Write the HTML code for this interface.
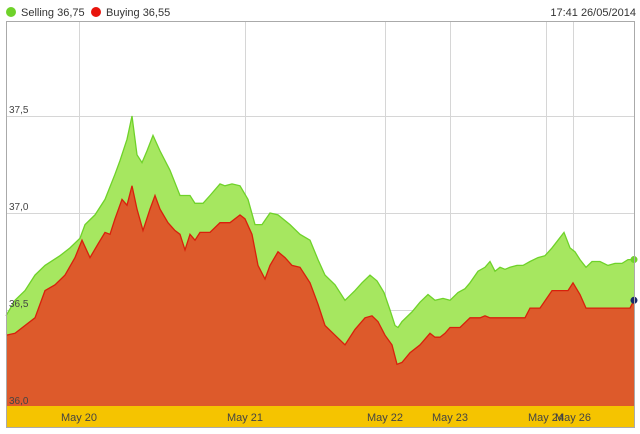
<!DOCTYPE html>
<html><head><meta charset="utf-8"><style>
body{margin:0;background:#fff;font-family:"Liberation Sans",sans-serif;}
svg{display:block}
</style></head><body>
<svg id="c" width="640" height="434">
<rect x="0" y="0" width="640" height="434" fill="#fff"/>
<g>
<circle cx="11" cy="12" r="5" fill="#6fd22a"/>
<text x="21" y="16" font-size="11" fill="#333">Selling 36,75</text>
<circle cx="96" cy="12" r="5" fill="#e8140c"/>
<text x="106" y="16" font-size="11" fill="#333">Buying 36,55</text>
<text x="636" y="16" font-size="11" fill="#333" text-anchor="end">17:41 26/05/2014</text>
</g>
<g id="grid"></g>
<g id="areas"></g>
<rect x="6" y="406" width="629" height="21" fill="#f5c400"/>
<g id="xl"></g>
<g id="yl"></g>
<rect x="6.5" y="21.5" width="628" height="406" fill="none" stroke="#aaa"/>
</svg>
<script>
const sellTimes=[0,9,19,29,39,54,64,74,79,89,99,109,114,121,126,131,136,141,147,154,164,174,184,189,197,204,214,219,226,234,242,249,256,264,272,284,294,304,312,319,329,339,349,356,364,371,378,384,389,392,396,406,414,422,429,437,444,452,459,464,472,479,484,489,494,499,504,511,517,524,532,539,546,552,558,564,569,574,580,586,594,602,609,616,622,628];
const sellValues=[36.47,36.55,36.60,36.68,36.73,36.78,36.82,36.87,36.94,36.99,37.07,37.20,37.27,37.38,37.50,37.30,37.26,37.32,37.40,37.32,37.22,37.09,37.09,37.05,37.05,37.09,37.15,37.14,37.15,37.14,37.07,36.94,36.94,37.00,36.99,36.94,36.89,36.86,36.76,36.68,36.63,36.55,36.60,36.64,36.68,36.65,36.59,36.50,36.42,36.41,36.44,36.49,36.54,36.58,36.55,36.56,36.55,36.59,36.61,36.64,36.70,36.72,36.75,36.70,36.72,36.71,36.72,36.73,36.73,36.75,36.77,36.78,36.82,36.86,36.90,36.82,36.80,36.76,36.72,36.75,36.75,36.73,36.74,36.74,36.76,36.76];
const buyTimes=[0,9,19,29,39,49,59,69,76,84,92,99,104,109,116,121,126,131,137,144,149,154,162,169,174,179,184,189,194,204,214,224,234,239,246,252,259,264,272,279,286,294,304,312,319,329,339,349,359,366,372,379,386,391,396,404,414,424,429,434,439,444,454,464,474,479,484,494,519,524,534,546,562,567,574,580,594,624,628];
const buyValues=[36.37,36.38,36.42,36.46,36.60,36.63,36.68,36.77,36.86,36.77,36.84,36.90,36.89,36.97,37.07,37.04,37.14,37.02,36.91,37.02,37.09,37.02,36.95,36.91,36.89,36.81,36.89,36.86,36.90,36.90,36.95,36.95,36.99,36.97,36.89,36.73,36.66,36.73,36.80,36.77,36.73,36.72,36.64,36.53,36.42,36.37,36.32,36.40,36.46,36.47,36.44,36.37,36.32,36.22,36.23,36.28,36.32,36.38,36.36,36.36,36.38,36.41,36.41,36.46,36.46,36.47,36.46,36.46,36.46,36.51,36.51,36.60,36.60,36.64,36.58,36.51,36.51,36.51,36.55];
const yTicks=[36.0,36.5,37.0,37.5];
const yTickLabels=["36,0","36,5","37,0","37,5"];
const dayTimes=[73,239,379,444,540,567];
const dayLabels=["May 20","May 21","May 22","May 23","May 24","May 26"];
const X=t=>6+t, Y=v=>407-(v-36)*194;
const NS="http://www.w3.org/2000/svg";
function mk(tag,attrs,parent){const e=document.createElementNS(NS,tag);for(const k in attrs)e.setAttribute(k,attrs[k]);document.getElementById(parent).appendChild(e);return e;}
yTicks.forEach((v,i)=>{
 const l=mk('line',{x1:6,x2:634,y1:Y(v)+.5,y2:Y(v)+.5,stroke:'#d6d6d6'},'grid');
 
 
 const t=mk('text',{x:9,y:Y(v)-3,'font-size':10,fill:'#444'},'yl');t.textContent=yTickLabels[i];
 
 
});
dayTimes.forEach((d,i)=>{
 const l=mk('line',{x1:X(d)+.5,x2:X(d)+.5,y1:21,y2:406,stroke:'#d6d6d6'},'grid');
 
 
 const t=mk('text',{x:X(d),y:421,'font-size':11,fill:'#444','text-anchor':'middle'},'xl');t.textContent=dayLabels[i];
 
 
});
function area(ts,vs,fill,stroke,name){
 let d='M'+X(ts[0])+','+Y(36);
 ts.forEach((t,i)=>d+=' L'+X(t)+','+Y(vs[i]).toFixed(1));
 d+=' L'+X(ts[ts.length-1])+','+Y(36)+'Z';
 const p=mk('path',{d:d,fill:fill},'areas');
 
 
 let ld='';ts.forEach((t,i)=>ld+=(i?' L':'M')+X(t)+','+Y(vs[i]).toFixed(1));
 const l=mk('path',{d:ld,fill:'none',stroke:stroke,'stroke-width':1.3},'areas');
 
 
}
area(sellTimes,sellValues,'#a6e760','#6fd22a','selling');
area(buyTimes,buyValues,'#dd5a2b','#d8200c','buying');
const g=mk('circle',{cx:X(628),cy:Y(sellValues[sellValues.length-1]),r:3.5,fill:'#6fd22a'},'areas');


const b=mk('circle',{cx:X(628),cy:Y(buyValues[buyValues.length-1]),r:3.5,fill:'#1a2a6a'},'areas');


</script>
</body></html>
